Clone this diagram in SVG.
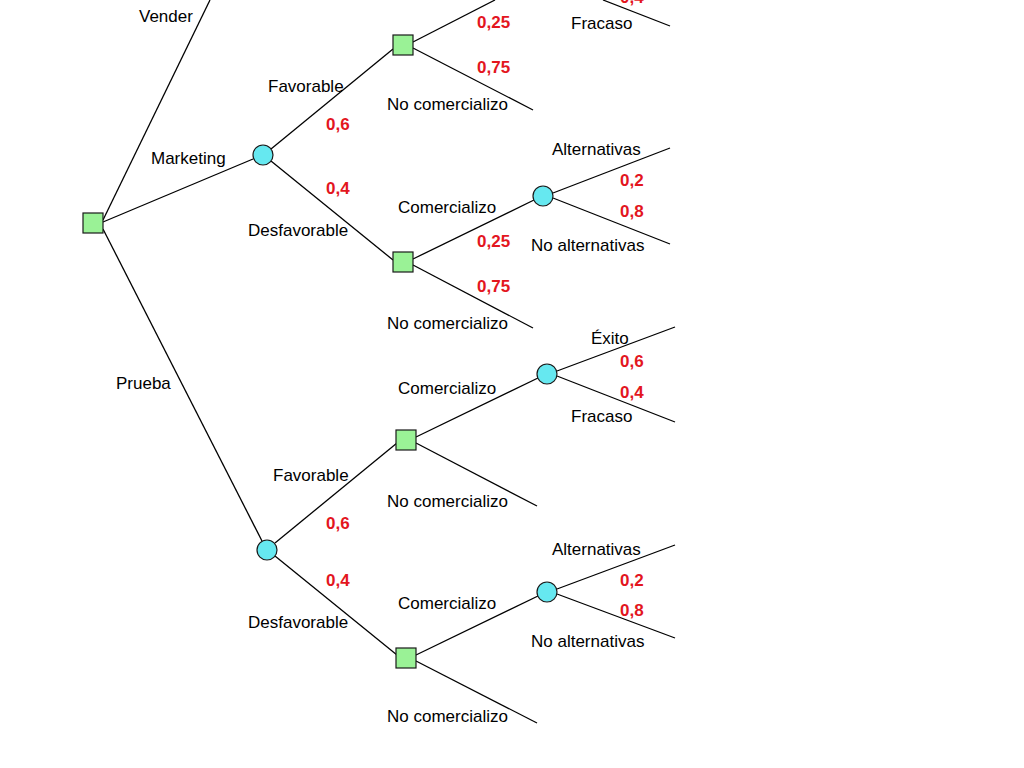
<svg xmlns="http://www.w3.org/2000/svg" width="1024" height="768" viewBox="0 0 1024 768">
<style>
.e{stroke:#000;stroke-width:1.3;fill:none}
.d{fill:#9AF296;stroke:#1a1a1a;stroke-width:1.2}
.c{fill:#66E8F0;stroke:#1a1a1a;stroke-width:1.2}
.t{font-family:"Liberation Sans",Arial,sans-serif;font-size:17px;fill:#000}
.p{font-family:"Liberation Sans",Arial,sans-serif;font-size:17px;font-weight:bold;fill:#E3161E}
</style>
<rect width="1024" height="768" fill="#fff"/>
<g id="connectors">
<line class="e" x1="103" y1="220" x2="210" y2="0"/>
<line class="e" x1="103" y1="222" x2="253" y2="159"/>
<line class="e" x1="103" y1="229" x2="262" y2="541"/>
<line class="e" x1="271" y1="149" x2="393" y2="49"/>
<line class="e" x1="271" y1="161" x2="393" y2="260"/>
<line class="e" x1="413" y1="42" x2="495" y2="0"/>
<line class="e" x1="413" y1="48" x2="533" y2="110"/>
<line class="e" x1="603" y1="0" x2="670" y2="26"/>
<line class="e" x1="413" y1="259" x2="534" y2="200"/>
<line class="e" x1="413" y1="265" x2="533" y2="328"/>
<line class="e" x1="553" y1="193" x2="670" y2="148"/>
<line class="e" x1="553" y1="198" x2="670" y2="244"/>
<line class="e" x1="275" y1="543" x2="397" y2="443"/>
<line class="e" x1="275" y1="556" x2="397" y2="655"/>
<line class="e" x1="416" y1="437" x2="538" y2="378"/>
<line class="e" x1="416" y1="443" x2="537" y2="506"/>
<line class="e" x1="557" y1="371" x2="675" y2="327"/>
<line class="e" x1="557" y1="376" x2="675" y2="422"/>
<line class="e" x1="416" y1="655" x2="538" y2="596"/>
<line class="e" x1="416" y1="661" x2="537" y2="723"/>
<line class="e" x1="557" y1="589" x2="675" y2="545"/>
<line class="e" x1="557" y1="594" x2="675" y2="638"/>
</g>
<g id="root"><rect class="d" x="83" y="213" width="20" height="20"/></g>
<g id="marketing"><circle class="c" cx="263" cy="155" r="10"/></g>
<g id="prueba"><circle class="c" cx="267" cy="550" r="10"/></g>
<g id="m-fav"><rect class="d" x="393" y="35" width="20" height="20"/></g>
<g id="m-desf"><rect class="d" x="393" y="252" width="20" height="20"/></g>
<g id="m-desf-com"><circle class="c" cx="543" cy="196" r="10"/></g>
<g id="p-fav"><rect class="d" x="396" y="430" width="20" height="20"/></g>
<g id="p-fav-com"><circle class="c" cx="547" cy="374" r="10"/></g>
<g id="p-desf"><rect class="d" x="396" y="648" width="20" height="20"/></g>
<g id="p-desf-com"><circle class="c" cx="547" cy="592" r="10"/></g>
<g id="labels">
<text class="t" x="139" y="22">Vender</text>
<text class="t" x="151" y="164">Marketing</text>
<text class="t" x="116" y="389">Prueba</text>
<text class="t" x="268" y="92">Favorable</text>
<text class="p" x="326" y="130">0,6</text>
<text class="p" x="326" y="194">0,4</text>
<text class="t" x="248" y="236">Desfavorable</text>
<text class="p" x="620" y="3">0,4</text>
<text class="p" x="477" y="28">0,25</text>
<text class="t" x="571" y="29">Fracaso</text>
<text class="p" x="477" y="73">0,75</text>
<text class="t" x="387" y="110">No comercializo</text>
<text class="t" x="552" y="155">Alternativas</text>
<text class="p" x="620" y="186">0,2</text>
<text class="t" x="398" y="213">Comercializo</text>
<text class="p" x="620" y="217">0,8</text>
<text class="p" x="477" y="247">0,25</text>
<text class="t" x="531" y="251">No alternativas</text>
<text class="p" x="477" y="292">0,75</text>
<text class="t" x="387" y="329">No comercializo</text>
<text class="t" x="591" y="344">Éxito</text>
<text class="p" x="620" y="367">0,6</text>
<text class="t" x="398" y="394">Comercializo</text>
<text class="p" x="620" y="398">0,4</text>
<text class="t" x="571" y="422">Fracaso</text>
<text class="t" x="273" y="481">Favorable</text>
<text class="t" x="387" y="507">No comercializo</text>
<text class="p" x="326" y="529">0,6</text>
<text class="t" x="552" y="555">Alternativas</text>
<text class="p" x="326" y="586">0,4</text>
<text class="p" x="620" y="586">0,2</text>
<text class="t" x="398" y="609">Comercializo</text>
<text class="p" x="620" y="616">0,8</text>
<text class="t" x="248" y="628">Desfavorable</text>
<text class="t" x="531" y="647">No alternativas</text>
<text class="t" x="387" y="722">No comercializo</text>
</g>
</svg>
